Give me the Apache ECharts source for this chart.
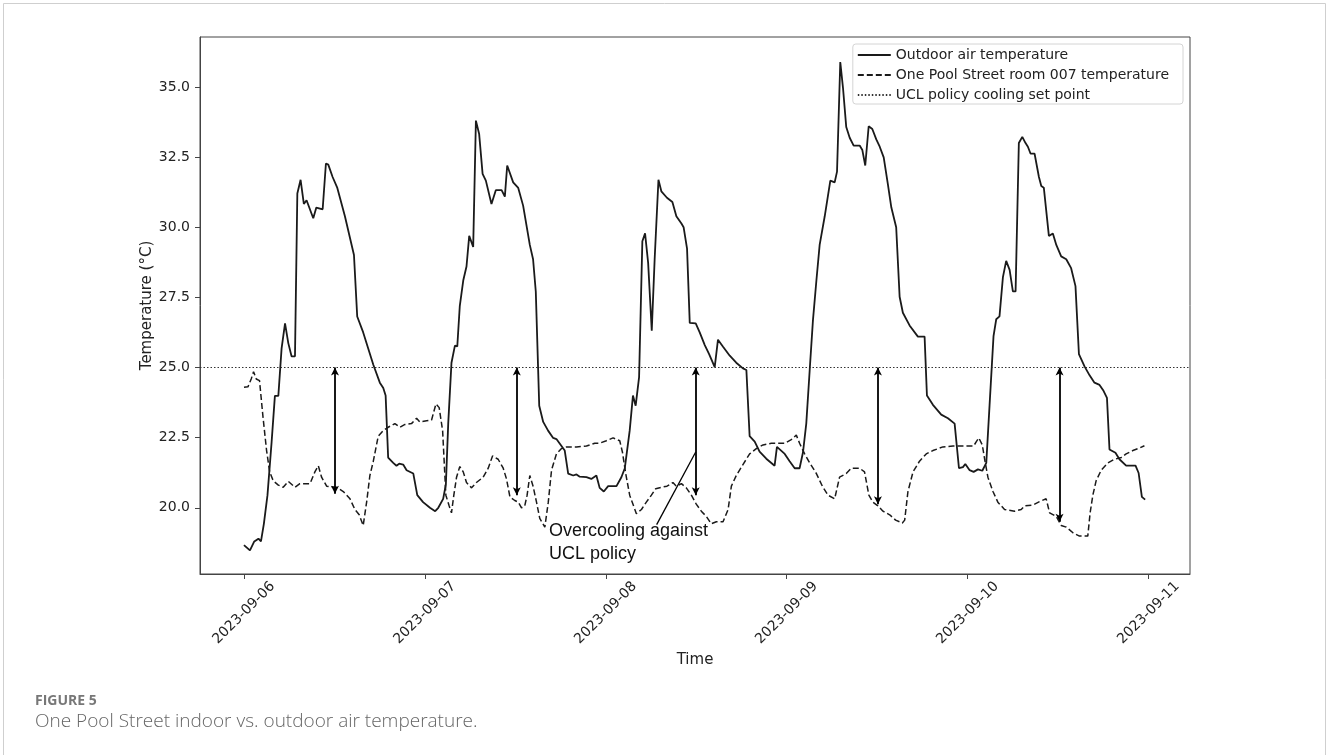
<!DOCTYPE html>
<html>
<head>
<meta charset="utf-8">
<script src="https://cdn.jsdelivr.net/npm/echarts@6/dist/echarts.min.js"></script>
<style>
html,body{margin:0;padding:0;background:#fff;}
#chart{width:1327px;height:755px;}
</style>
</head>
<body>
<div id="chart"></div>
<script>
// x values are days after 2023-09-06 00:00
const dateLabels = ['2023-09-06','2023-09-07','2023-09-08','2023-09-09','2023-09-10','2023-09-11'];
const dateTicks = [0,1,2,3,4,5];
const tempTicks = [20.0,22.5,25.0,27.5,30.0,32.5,35.0];

const outdoorDays = [0.000,0.033,0.057,0.080,0.094,0.110,0.130,0.153,0.171,0.190,0.208,0.227,0.245,0.263,0.282,0.295,0.313,0.331,0.346,0.383,0.400,0.435,0.453,0.466,0.490,0.516,0.558,0.608,0.626,0.659,0.715,0.751,0.770,0.783,0.797,0.825,0.843,0.858,0.880,0.899,0.936,0.958,0.990,1.028,1.057,1.074,1.101,1.116,1.129,1.147,1.166,1.179,1.193,1.212,1.230,1.245,1.267,1.282,1.300,1.319,1.337,1.368,1.392,1.424,1.442,1.455,1.488,1.516,1.543,1.580,1.598,1.613,1.632,1.654,1.681,1.709,1.727,1.751,1.773,1.792,1.820,1.838,1.856,1.893,1.920,1.948,1.966,1.989,2.013,2.059,2.086,2.105,2.132,2.150,2.165,2.184,2.202,2.217,2.234,2.254,2.270,2.291,2.307,2.338,2.368,2.390,2.418,2.430,2.449,2.464,2.497,2.519,2.547,2.571,2.602,2.620,2.648,2.685,2.721,2.758,2.777,2.795,2.823,2.850,2.887,2.933,2.946,2.989,3.016,3.044,3.071,3.090,3.108,3.127,3.145,3.164,3.182,3.210,3.241,3.265,3.278,3.296,3.311,3.329,3.348,3.370,3.403,3.418,3.434,3.453,3.473,3.495,3.514,3.536,3.559,3.578,3.605,3.624,3.642,3.679,3.725,3.762,3.775,3.808,3.854,3.891,3.928,3.952,3.974,3.987,4.011,4.033,4.057,4.081,4.103,4.121,4.143,4.158,4.176,4.195,4.213,4.232,4.250,4.265,4.283,4.302,4.320,4.333,4.348,4.370,4.394,4.407,4.421,4.449,4.471,4.490,4.517,4.545,4.572,4.596,4.615,4.646,4.674,4.701,4.729,4.751,4.770,4.784,4.817,4.839,4.876,4.928,4.945,4.963,4.981];
const outdoorTemp = [18.67,18.48,18.80,18.90,18.80,19.43,20.45,22.36,23.99,23.99,25.68,26.57,25.87,25.40,25.40,31.20,31.69,30.83,30.96,30.32,30.70,30.64,32.27,32.23,31.79,31.40,30.39,29.01,26.82,26.25,25.10,24.46,24.27,24.00,21.79,21.60,21.50,21.57,21.54,21.34,21.22,20.45,20.20,20.00,19.88,20.00,20.32,20.83,23.00,25.17,25.78,25.75,27.20,28.10,28.60,29.69,29.30,33.80,33.32,31.90,31.66,30.83,31.32,31.32,31.09,32.20,31.60,31.40,30.77,29.37,28.86,27.71,23.64,23.06,22.75,22.49,22.45,22.24,22.04,21.22,21.15,21.19,21.11,21.09,21.03,21.15,20.71,20.58,20.77,20.77,21.09,21.41,22.75,24.00,23.64,24.66,29.50,29.78,28.73,26.31,28.86,31.69,31.28,31.05,30.90,30.39,30.13,30.00,29.24,26.59,26.57,26.25,25.80,25.48,25.01,25.99,25.74,25.42,25.17,24.97,24.91,22.55,22.36,22.00,21.75,21.50,22.17,21.92,21.66,21.41,21.41,21.98,23.00,24.91,26.69,28.10,29.37,30.39,31.66,31.60,31.98,35.89,34.97,33.57,33.19,32.91,32.91,32.75,32.20,33.60,33.50,33.13,32.87,32.49,31.54,30.71,30.00,27.52,26.95,26.50,26.10,26.10,24.00,23.67,23.32,23.19,23.00,21.41,21.45,21.56,21.34,21.28,21.37,21.32,21.60,23.64,26.12,26.72,26.82,28.22,28.80,28.48,27.71,27.71,33.00,33.22,33.00,32.87,32.62,32.62,31.79,31.47,31.41,29.69,29.78,29.37,28.96,28.86,28.54,27.90,25.48,25.04,24.72,24.46,24.38,24.17,23.92,22.08,21.96,21.73,21.50,21.50,21.24,20.39,20.29];

const indoorDays = [0.000,0.022,0.040,0.053,0.068,0.086,0.105,0.125,0.142,0.162,0.190,0.217,0.245,0.282,0.309,0.365,0.392,0.411,0.429,0.457,0.512,0.549,0.586,0.613,0.637,0.659,0.678,0.696,0.715,0.742,0.770,0.797,0.834,0.862,0.890,0.926,0.954,0.972,1.009,1.037,1.061,1.079,1.098,1.116,1.134,1.147,1.160,1.175,1.193,1.212,1.230,1.258,1.285,1.322,1.350,1.374,1.405,1.433,1.451,1.470,1.497,1.516,1.534,1.552,1.565,1.580,1.598,1.617,1.635,1.663,1.682,1.700,1.727,1.755,1.783,1.838,1.893,1.939,1.966,2.003,2.040,2.077,2.092,2.110,2.132,2.169,2.197,2.224,2.252,2.276,2.307,2.338,2.371,2.390,2.418,2.445,2.473,2.500,2.528,2.556,2.583,2.611,2.648,2.676,2.694,2.721,2.758,2.795,2.832,2.869,2.915,2.961,2.989,3.025,3.053,3.071,3.099,3.127,3.164,3.197,3.228,3.265,3.292,3.329,3.357,3.403,3.430,3.454,3.477,3.504,3.532,3.569,3.602,3.639,3.652,3.670,3.698,3.734,3.771,3.808,3.863,3.919,3.992,4.033,4.048,4.062,4.081,4.094,4.112,4.140,4.167,4.204,4.259,4.296,4.315,4.361,4.397,4.434,4.453,4.490,4.517,4.545,4.582,4.618,4.664,4.677,4.692,4.710,4.738,4.775,4.812,4.849,4.876,4.913,4.950,4.977];
const indoorTemp = [24.30,24.31,24.59,24.85,24.59,24.53,23.25,22.04,21.28,20.96,20.81,20.73,20.94,20.73,20.86,20.86,21.28,21.50,21.09,20.77,20.73,20.58,20.32,19.94,19.75,19.37,20.20,21.15,21.66,22.55,22.75,22.87,23.00,22.87,22.97,23.00,23.19,23.06,23.10,23.13,23.70,23.57,22.75,20.45,20.07,19.82,20.45,21.09,21.47,21.28,20.90,20.71,20.90,21.09,21.41,21.85,21.73,21.41,21.03,20.39,20.26,20.20,20.00,20.07,20.45,21.15,20.77,20.20,19.62,19.31,20.20,21.34,21.92,22.11,22.17,22.17,22.20,22.30,22.30,22.39,22.49,22.39,21.98,21.22,20.45,19.79,19.94,20.20,20.45,20.68,20.73,20.77,20.90,20.77,20.86,20.71,20.45,20.13,19.88,19.69,19.43,19.50,19.50,19.94,20.77,21.15,21.54,21.92,22.11,22.24,22.30,22.30,22.30,22.43,22.59,22.30,21.92,21.60,21.22,20.77,20.45,20.32,21.09,21.22,21.41,21.41,21.28,20.45,20.20,20.07,19.88,19.75,19.56,19.46,19.56,20.58,21.28,21.66,21.92,22.04,22.17,22.20,22.20,22.20,22.36,22.49,22.24,21.73,21.09,20.58,20.20,19.94,19.88,19.94,20.07,20.10,20.22,20.32,19.82,19.69,19.37,19.31,19.11,18.99,18.99,19.82,20.45,20.96,21.34,21.60,21.73,21.79,21.92,22.04,22.13,22.21];

const setPoint = 25.0;
const arrowDays = [0.503,1.508,2.497,3.504,4.508];
const arrowLow  = [20.50,20.45,20.45,20.13,19.50];
const noteText = 'Overcooling against\nUCL policy';
const notePos = [1.686, 19.57];
const notePointer = [[2.281, 19.40],[2.497, 21.99]];

const xMin = -0.243, xMax = 5.229, yMin = 17.64, yMax = 36.78;

const zip = (a,b) => a.map((v,i)=>[v,b[i]]);
const ink = '#1a1a1a';
const mpl = 'DejaVu Sans';

const chart = echarts.init(document.getElementById('chart'), null, {renderer:'canvas'});
chart.setOption({
  animation:false,
  backgroundColor:'#fff',
  grid:{left:200, top:37, right:137, bottom:181, show:true, borderColor:'#444', borderWidth:1, backgroundColor:'transparent'},
  legend:{
    orient:'vertical', right:144, top:44,
    itemWidth:33, itemHeight:14, itemGap:6,
    padding:[4,14,2,4],
    borderColor:'#d4d4d4', borderWidth:1, borderRadius:3,
    backgroundColor:'rgba(255,255,255,0.85)',
    selectedMode:false,
    itemStyle:{opacity:0, color:'transparent', borderWidth:0},
    textStyle:{fontFamily:mpl, fontSize:14, color:'#222'},
    data:['Outdoor air temperature','One Pool Street room 007 temperature','UCL policy cooling set point']
  },
  xAxis:{
    type:'value', min:xMin, max:xMax,
    name:'Time', nameLocation:'middle', nameGap:79, nameMoveOverlap:false,
    nameTextStyle:{fontFamily:mpl, fontSize:15, color:'#222'},
    axisLine:{show:true, onZero:false, lineStyle:{color:'#444', width:1}},
    axisTick:{show:true, inside:false, length:5, lineStyle:{color:'#444'}, customValues:dateTicks},
    axisLabel:{show:true, customValues:dateTicks, rotate:45, align:'center', verticalAlign:'middle', margin:39,
      fontFamily:mpl, fontSize:14, color:'#222',
      formatter:v=>dateLabels[Math.round(v)]},
    splitLine:{show:false}
  },
  yAxis:{
    type:'value', min:yMin, max:yMax,
    name:'Temperature (°C)', nameLocation:'middle', nameGap:45, nameRotate:90, nameMoveOverlap:false,
    nameTextStyle:{fontFamily:mpl, fontSize:15, color:'#222'},
    axisLine:{show:true, onZero:false, lineStyle:{color:'#444', width:1}},
    axisTick:{show:true, inside:false, length:5, lineStyle:{color:'#444'}, customValues:tempTicks},
    axisLabel:{show:true, customValues:tempTicks, margin:10, fontFamily:mpl, fontSize:14, color:'#222',
      formatter:v=>v.toFixed(1)},
    splitLine:{show:false}
  },
  series:[
    {
      name:'Outdoor air temperature', type:'line', showSymbol:false, symbol:'none',
      data:zip(outdoorDays,outdoorTemp),
      lineStyle:{color:ink, width:1.8, type:'solid'}, itemStyle:{color:ink}, z:3
    },
    {
      name:'One Pool Street room 007 temperature', type:'line', showSymbol:false, symbol:'none',
      data:zip(indoorDays,indoorTemp),
      lineStyle:{color:ink, width:1.5, type:[6,3]}, itemStyle:{color:ink}, z:3,
      markLine:{
        silent:true, animation:false,
        symbol:['arrow','arrow'], symbolSize:[6,8],
        label:{show:false},
        lineStyle:{color:'#000', width:1.8, type:'solid'},
        data:arrowDays.map((d,i)=>[{coord:[d,setPoint]},{coord:[d,arrowLow[i]]}])
      }
    },
    {
      name:'UCL policy cooling set point', type:'line', showSymbol:false, symbol:'none',
      data:[[xMin,setPoint],[xMax,setPoint]],
      lineStyle:{color:'#333', width:1.1, type:[1.5,2]}, itemStyle:{color:'#333'}, z:2,
      markLine:{
        silent:true, animation:false, symbol:['none','none'], label:{show:false},
        lineStyle:{color:'#000', width:1.3, type:'solid'},
        data:[[{coord:notePointer[0]},{coord:notePointer[1]}]]
      },
      markPoint:{
        silent:true, symbol:'circle', symbolSize:0,
        data:[{coord:notePos}],
        label:{show:true, position:[0,0], align:'left', verticalAlign:'top',
          formatter:noteText, fontFamily:'Liberation Sans', fontSize:18, lineHeight:23, color:'#111'}
      }
    }
  ],
  graphic:[
    {type:'rect', silent:true, shape:{x:3.5, y:3.5, width:1322, height:800},
     style:{fill:'none', stroke:'#cfcfcf', lineWidth:1}},
    {type:'text', left:35, top:694, silent:true,
     style:{text:'FIGURE 5', fontFamily:'Open Sans', fontSize:14, fontWeight:'bold', fill:'#777'}},
    {type:'text', left:35, top:712, silent:true,
     style:{text:'One Pool Street indoor vs. outdoor air temperature.', fontFamily:'Open Sans', fontSize:19, fontWeight:300, fill:'#666'}}
  ]
});
</script>
</body>
</html>
